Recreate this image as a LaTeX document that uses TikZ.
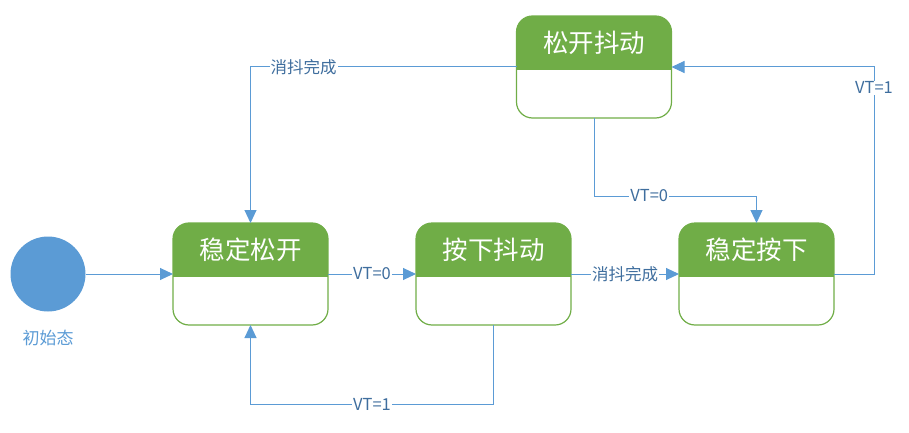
\documentclass[tikz,border=0pt]{standalone}
\usepackage{fontspec}
\setmainfont{Noto Sans CJK SC}
\usetikzlibrary{positioning}
\usetikzlibrary{arrows.meta}
\definecolor{hdrgreen}{HTML}{70AD47}
\definecolor{linkblue}{HTML}{5B9BD5}
\definecolor{lbltext}{HTML}{3F6E9E}

\begin{document}
\begin{tikzpicture}[x=1pt, y=-1pt,
    statenode/.style={draw=hdrgreen, line width=1.2pt, rounded corners=16pt, outer sep=0pt,
        minimum width=155pt, minimum height=102pt,
        path picture={\fill[hdrgreen, sharp corners] (path picture bounding box.north west) rectangle ([yshift=-54pt]path picture bounding box.north east);}},
    titlenode/.style={text=white, inner sep=0pt, font=\fontsize{25.5}{27}\selectfont},
    startnode/.style={circle, fill=linkblue, minimum size=75pt, inner sep=0pt, outer sep=0pt},
    link/.style={draw=linkblue, line width=1pt, -{Triangle[length=13pt, width=12pt]}},
    lbl/.style={fill=white, text=lbltext, inner sep=1pt, font=\fontsize{16.5}{18}\selectfont},]
    \useasboundingbox (0,0) rectangle (909,433);
    % nodes
    \node[startnode]      (init)     at (48,274)           {};
    \node[text=linkblue, font=\fontsize{17}{19}\selectfont] (initt) at (48,338) {初始态};
    \node[statenode]      (S1)       at (250.5,274)        {};
    \node[statenode]      (S2)       [right=88pt of S1]    {};
    \node[statenode]      (S3)       [right=108pt of S2]   {};
    \node[statenode]      (S4)       at (594,67)           {};
    \node[titlenode]      (S1t)      at ([yshift=-27pt]S1.north) {稳定松开};
    \node[titlenode]      (S2t)      at ([yshift=-27pt]S2.north) {按下抖动};
    \node[titlenode]      (S3t)      at ([yshift=-27pt]S3.north) {稳定按下};
    \node[titlenode]      (S4t)      at ([yshift=-27pt]S4.north) {松开抖动};
    % lines
    \draw[link] (init) -- (S1);
    \draw[link] (S1) -- (S2) node[lbl, midway]{VT=0};
    \draw[link] (S2) -- (S3) node[lbl, midway]{消抖完成};
    \draw[link] (S3.east) -- ++(40,0) |- (S4.east) node[lbl, pos=0.45]{VT=1};
    \draw[link] (S4.south) -- ++(0,78) -| (S3.north) node[lbl, pos=0.17]{VT=0};
    \draw[link] (S4.west) -| (S1.north) node[lbl, pos=0.4]{消抖完成};
    \draw[link] (S2.south) -- ++(0,79) -| (S1.south) node[lbl, pos=0.25]{VT=1};
\end{tikzpicture}
\end{document}
